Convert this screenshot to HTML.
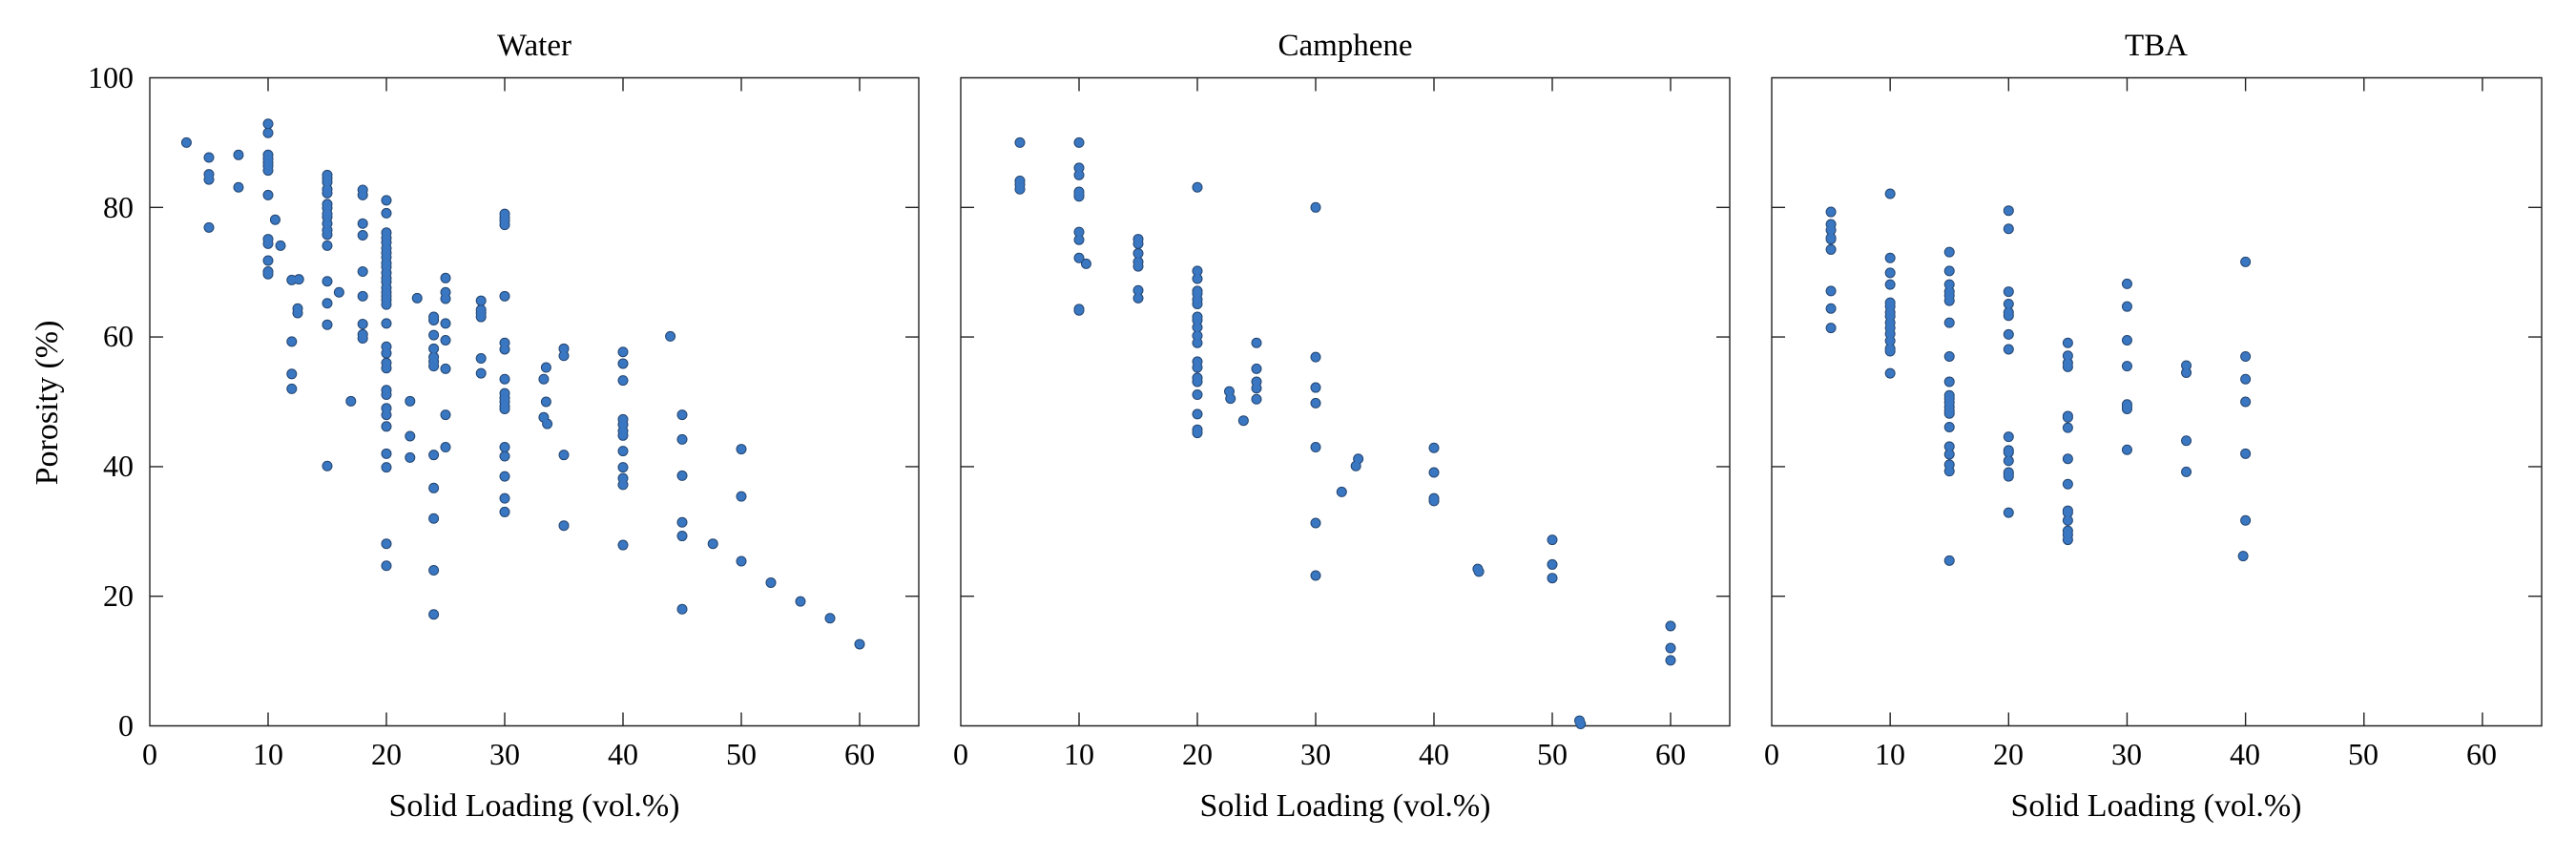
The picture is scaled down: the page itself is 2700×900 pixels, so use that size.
<!DOCTYPE html>
<html><head><meta charset="utf-8"><style>
html,body{margin:0;padding:0;background:#fff}
svg{display:block}
text{font-family:"Liberation Serif",serif;fill:#000}
.dp{fill:none;stroke-linecap:round;vector-effect:non-scaling-stroke}
.tk{fill:none;stroke:#222;stroke-width:1.4;vector-effect:non-scaling-stroke}
</style></head><body>
<svg width="2700" height="900" viewBox="0 0 2700 900" xmlns="http://www.w3.org/2000/svg">
<defs>
<g id="ticks">
<path class="tk" d="M0 0H65V100H0Z M10 0v2.06M20 0v2.06M30 0v2.06M40 0v2.06M50 0v2.06M60 0v2.06 M10 100v-2.06M20 100v-2.06M30 100v-2.06M40 100v-2.06M50 100v-2.06M60 100v-2.06 M0 20h1.13M0 40h1.13M0 60h1.13M0 80h1.13 M65 20h-1.13M65 40h-1.13M65 60h-1.13M65 80h-1.13"/>
</g>
</defs>

<!-- Panel 1 Water -->
<svg x="157" y="81.5" width="806" height="679" viewBox="0 0 65 100" preserveAspectRatio="none" overflow="visible">
<g transform="translate(0,100) scale(1,-1)">
<use href="#ticks"/>
<g style="stroke:#24456f;stroke-width:11">
<g id="w">
<path class="dp" d="M3.1 90h0M5 87.7h0M5 85.1h0M5 84.3h0M5 76.9h0M7.5 88.1h0M7.5 83.1h0
M10 92.9h0M10 91.5h0M10 88.1h0M10 87.5h0M10 86.9h0M10 86.4h0M10 85.7h0M10 81.9h0M10 75.1h0M10 74.4h0M10 71.8h0M10 70.1h0M10 69.7h0
M10.6 78.1h0M11.05 74.1h0M12 68.8h0M12.6 68.9h0M12.5 64.4h0M12.5 63.7h0M12 59.3h0M12 54.3h0M12 52h0
M15 85h0M15 84.5h0M15 83.9h0M15 82.8h0M15 82.2h0M15 80.5h0M15 79.9h0M15 79h0M15 78.5h0M15 77.5h0M15 76.5h0M15 75.8h0M15 74.1h0M15 68.6h0M15 65.2h0M15 61.9h0M15 40.1h0
M16 66.9h0M17 50.1h0
M18 82.7h0M18 81.9h0M18 77.5h0M18 75.7h0M18 70.1h0M18 66.3h0M18 62h0M18 60.4h0M18 59.8h0
M20 81.1h0M20 79.1h0M20 76.1h0M20 75.3h0M20 74.6h0M20 73.7h0M20 73h0M20 72.3h0M20 71.4h0M20 70.8h0M20 69.9h0M20 69.1h0M20 68.5h0M20 67.6h0M20 66.9h0M20 66.3h0M20 65.7h0M20 65h0M20 62.1h0M20 58.5h0M20 57.5h0M20 56h0M20 55.2h0M20 51.8h0M20 51.1h0M20 49h0M20 48h0M20 46.2h0M20 42h0M20 39.9h0M20 28.1h0M20 24.7h0
M22 50.1h0M22 44.7h0M22 41.4h0M22.6 66h0
M24 63.1h0M24 62.6h0M24 60.3h0M24 58.2h0M24 56.9h0M24 56.2h0M24 55.5h0M24 41.8h0M24 36.7h0M24 32h0M24 24h0M24 17.2h0
M25 69.1h0M25 66.9h0M25 65.9h0M25 62.1h0M25 59.5h0M25 55.1h0M25 48h0M25 43h0
M28 65.6h0M28 64.2h0M28 63.7h0M28 63.1h0M28 56.7h0M28 54.4h0
M30 79h0M30 78.4h0M30 77.9h0M30 77.3h0M30 66.3h0M30 59.1h0M30 58.1h0M30 53.5h0M30 51.3h0M30 50.6h0M30 50h0M30 49.3h0M30 48.9h0M30 43h0M30 41.6h0M30 38.5h0M30 35.1h0M30 33h0
M33.3 53.5h0M33.3 47.6h0M33.5 55.3h0M33.5 50h0M33.6 46.6h0
M35 58.2h0M35 57.1h0M35 41.8h0M35 30.9h0
M40 57.7h0M40 55.9h0M40 53.3h0M40 47.3h0M40 46.5h0M40 45.5h0M40 44.8h0M40 42.4h0M40 39.9h0M40 38.2h0M40 37.2h0M40 27.9h0
M44 60.1h0M45 48h0M45 44.2h0M45 38.6h0M45 31.4h0M45 29.3h0M45 18h0M47.6 28.1h0
M50 42.7h0M50 35.4h0M50 25.4h0M52.5 22.1h0M55 19.2h0M57.5 16.6h0M60 12.6h0"/>
</g></g>
<use href="#w" style="stroke:#3a77c2;stroke-width:9"/>
</g>
</svg>

<!-- Panel 2 Camphene -->
<svg x="1007" y="81.5" width="806" height="679" viewBox="0 0 65 100" preserveAspectRatio="none" overflow="visible">
<g transform="translate(0,100) scale(1,-1)">
<use href="#ticks"/>
<g style="stroke:#24456f;stroke-width:11">
<g id="c"><path class="dp" d="M5 90h0M5 84.1h0M5 83.5h0M5 82.8h0
M10 90h0M10 86.1h0M10 85h0M10 82.4h0M10 82h0M10 81.7h0M10 76.2h0M10 75h0M10 72.2h0M10 64.3h0M10 64.1h0M10.6 71.3h0
M15 75.1h0M15 74.4h0M15 72.9h0M15 71.6h0M15 70.9h0M15 67.2h0M15 66h0
M20 83.1h0M20 70.2h0M20 69h0M20 67.1h0M20 66.7h0M20 65.8h0M20 65.1h0M20 63.1h0M20 62.6h0M20 61.5h0M20 60.2h0M20 59.1h0M20 56.2h0M20 55.3h0M20 53.7h0M20 53.1h0M20 51.1h0M20 48.1h0M20 45.7h0M20 45.2h0
M22.7 51.6h0M22.8 50.5h0M23.9 47.1h0
M25 59.1h0M25 55.1h0M25 53.1h0M25 52.1h0M25 50.4h0
M30 80h0M30 56.9h0M30 52.2h0M30 49.8h0M30 43h0M30 31.3h0M30 23.2h0
M32.2 36.1h0M33.4 40.1h0M33.6 41.2h0
M40 42.9h0M40 39.1h0M40 35.1h0M40 34.7h0M43.7 24.2h0M43.8 23.8h0
M50 28.7h0M50 24.9h0M50 22.8h0M52.3 0.8h0M52.4 0.3h0
M60 15.4h0M60 12h0M60 10.1h0"/></g></g>
<use href="#c" style="stroke:#3a77c2;stroke-width:9"/>
</g>
</svg>

<!-- Panel 3 TBA -->
<svg x="1857" y="81.5" width="807" height="679" viewBox="0 0 65 100" preserveAspectRatio="none" overflow="visible">
<g transform="translate(0,100) scale(1,-1)">
<use href="#ticks"/>
<g style="stroke:#24456f;stroke-width:11">
<g id="t"><path class="dp" d="M5 79.3h0M5 77.4h0M5 76.5h0M5 75.3h0M5 75.1h0M5 73.5h0M5 67.1h0M5 64.4h0M5 61.4h0
M10 82.1h0M10 72.2h0M10 69.9h0M10 68.1h0M10 65.3h0M10 64.7h0M10 63.8h0M10 63.2h0M10 62.2h0M10 61.4h0M10 60.5h0M10 59.4h0M10 58.2h0M10 57.8h0M10 54.4h0
M15 73.1h0M15 70.2h0M15 68.1h0M15 67h0M15 66.4h0M15 65.6h0M15 62.2h0M15 57h0M15 53.1h0M15 51h0M15 50.5h0M15 49.9h0M15 49.2h0M15 48.6h0M15 48.2h0M15 46.1h0M15 43.1h0M15 41.9h0M15 40.3h0M15 39.3h0M15 25.5h0
M20 79.5h0M20 76.7h0M20 67h0M20 65.1h0M20 63.8h0M20 63.3h0M20 60.4h0M20 58.1h0M20 44.6h0M20 42.5h0M20 42.2h0M20 40.9h0M20 39.1h0M20 38.8h0M20 38.5h0M20 32.9h0
M25 59.1h0M25 57.1h0M25 56h0M25 55.4h0M25 47.8h0M25 47.6h0M25 46h0M25 41.2h0M25 37.3h0M25 33.2h0M25 32.9h0M25 31.7h0M25 30.1h0M25 29.5h0M25 28.7h0
M30 68.2h0M30 64.7h0M30 59.5h0M30 55.5h0M30 49.6h0M30 49.3h0M30 48.9h0M30 42.6h0
M35 55.6h0M35 54.5h0M35 44h0M35 39.2h0
M40 71.6h0M40 57h0M40 53.5h0M40 50h0M40 42h0M40 31.7h0M39.8 26.2h0"/></g></g>
<use href="#t" style="stroke:#3a77c2;stroke-width:9"/>
</g>
</svg>

<!-- Titles -->
<text x="560" y="58" font-size="33" text-anchor="middle">Water</text>
<text x="1410" y="58" font-size="33" text-anchor="middle">Camphene</text>
<text x="2260" y="58" font-size="33" text-anchor="middle">TBA</text>

<!-- x labels -->
<text x="560" y="855" font-size="34" text-anchor="middle">Solid Loading (vol.%)</text>
<text x="1410" y="855" font-size="34" text-anchor="middle">Solid Loading (vol.%)</text>
<text x="2260" y="855" font-size="34" text-anchor="middle">Solid Loading (vol.%)</text>

<!-- y label -->
<text transform="translate(60,422) rotate(-90)" font-size="34" text-anchor="middle">Porosity (%)</text>

<!-- y ticks -->
<g font-size="32" text-anchor="end">
<text x="140" y="771">0</text>
<text x="140" y="635">20</text>
<text x="140" y="499">40</text>
<text x="140" y="363">60</text>
<text x="140" y="228">80</text>
<text x="140" y="92">100</text>
</g>

<!-- x ticks -->
<g font-size="32" text-anchor="middle">
<text x="157" y="801">0</text><text x="281" y="801">10</text><text x="405" y="801">20</text><text x="529" y="801">30</text><text x="653" y="801">40</text><text x="777" y="801">50</text><text x="901" y="801">60</text>
<text x="1007" y="801">0</text><text x="1131" y="801">10</text><text x="1255" y="801">20</text><text x="1379" y="801">30</text><text x="1503" y="801">40</text><text x="1627" y="801">50</text><text x="1751" y="801">60</text>
<text x="1857" y="801">0</text><text x="1981" y="801">10</text><text x="2105" y="801">20</text><text x="2229" y="801">30</text><text x="2353" y="801">40</text><text x="2477" y="801">50</text><text x="2601" y="801">60</text>
</g>
</svg>
</body></html>
